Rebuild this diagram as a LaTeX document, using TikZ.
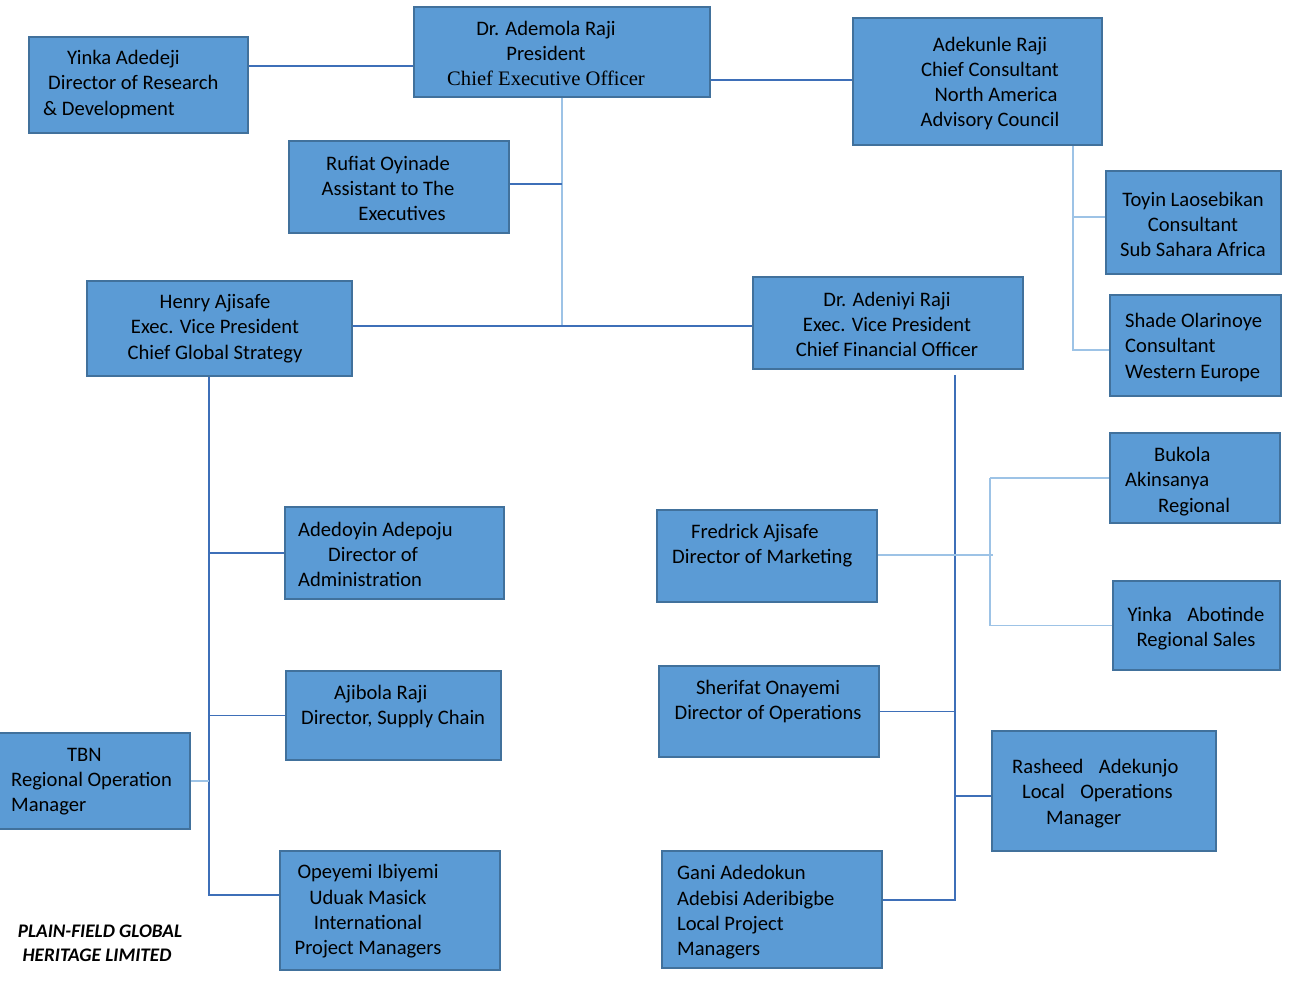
\documentclass[tikz,border=0pt]{standalone}
\usepackage{fontspec}
\setmainfont{Carlito}
\newfontfamily\tnr{Liberation Serif}
\definecolor{boxfill}{HTML}{5B9BD5}
\definecolor{boxline}{HTML}{41719C}
\definecolor{dkline}{HTML}{3E6FB8}
\definecolor{ltline}{HTML}{9DC3E6}
\tikzset{
  box/.style={draw=boxline, fill=boxfill, line width=1.8pt, rectangle, inner sep=0pt},
  txt/.style={inner sep=0pt, text=black, font=\fontsize{20.6}{25.3}\selectfont, yshift=-1.5pt},
  dk/.style={draw=dkline, line width=1.6pt},
  lt/.style={draw=ltline, line width=1.3pt}
}
\begin{document}
\begin{tikzpicture}[x=1pt,y=-1pt]
\useasboundingbox (0,0) rectangle (1300,993);
% boxes
\node[box, minimum width=219, minimum height=96] (yinkaD) at (138.5,85) {};
\node[box, minimum width=296, minimum height=90] (ceo) at (562,52) {};
\node[box, minimum width=249, minimum height=127] (adekunle) at (977.5,81.5) {};
\node[box, minimum width=220, minimum height=92] (rufiat) at (399,187) {};
\node[box, minimum width=265, minimum height=95] (henry) at (219.5,328.5) {};
\node[box, minimum width=270, minimum height=92] (adeniyi) at (888,323) {};
\node[box, minimum width=175, minimum height=103] (toyin) at (1193.5,222.5) {};
\node[box, minimum width=171, minimum height=101] (shade) at (1195.5,345.5) {};
\node[box, minimum width=170, minimum height=90] (bukola) at (1195,478) {};
\node[box, minimum width=220, minimum height=92] (fredrick) at (767,556) {};
\node[box, minimum width=167, minimum height=89] (abotinde) at (1196.5,625.5) {};
\node[box, minimum width=219, minimum height=92] (adedoyin) at (394.5,553) {};
\node[box, minimum width=215, minimum height=89] (ajibola) at (393.5,715.5) {};
\node[box, minimum width=192, minimum height=96] (tbn) at (94,781) {};
\node[box, minimum width=220, minimum height=119] (opeyemi) at (390,910.5) {};
\node[box, minimum width=220, minimum height=91] (sherifat) at (769,711.5) {};
\node[box, minimum width=224, minimum height=120] (rasheed) at (1104,791) {};
\node[box, minimum width=220, minimum height=117] (gani) at (772,909.5) {};
% texts
\node[txt, align=left, anchor=west] (yinkaDT) at (43,83) {\hspace{24pt}Yinka Adedeji\\\hspace{5pt}Director of Research\\\& Development};
\node[txt, align=center] (ceoT) at (546,52) {Dr. Ademola Raji\\President\\{\tnr Chief Executive Officer}};
\node[txt, align=center] (adekunleT) at (990,82) {Adekunle Raji\\Chief Consultant\\\hspace{12pt}North America\\Advisory Council};
\node[txt, align=center] (rufiatT) at (388,187) {Rufiat Oyinade\\Assistant to The\\\hspace{28pt}Executives};
\node[txt, align=center] (henryT) at (215,327) {Henry Ajisafe\\Exec. Vice President\\Chief Global Strategy};
\node[txt, align=center] (adeniyiT) at (887,323) {Dr. Adeniyi Raji\\Exec. Vice President\\Chief Financial Officer};
\node[txt, align=center] (toyinT) at (1193,223) {Toyin Laosebikan\\Consultant\\Sub Sahara Africa};
\node[txt, align=left, anchor=west] (shadeT) at (1125,346) {Shade Olarinoye\\Consultant\\Western Europe};
\node[txt, align=left, anchor=west] (bukolaT) at (1125,480) {\hspace{29pt}Bukola\\Akinsanya\\\hspace{33pt}Regional};
\node[txt, align=left, anchor=west] (fredrickT) at (672,544) {\hspace{19pt}Fredrick Ajisafe\\Director of Marketing};
\node[txt, align=center] (abotindeT) at (1196,627) {Yinka\hspace{0.75em}Abotinde\\Regional Sales};
\node[txt, align=left, anchor=west] (adedoyinT) at (298,553) {Adedoyin Adepoju\\\hspace{30pt}Director of\\Administration};
\node[txt, align=left, anchor=west] (ajibolaT) at (301,705) {\hspace{33pt}Ajibola Raji\\Director, Supply Chain};
\node[txt, align=left, anchor=west] (tbnT) at (11,780) {\hspace{56pt}TBN\\Regional Operation\\Manager};
\node[txt, align=center] (opeyemiT) at (368,910) {Opeyemi Ibiyemi\\Uduak Masick\\International\\Project Managers};
\node[txt, align=center] (sherifatT) at (768,700) {Sherifat Onayemi\\Director of Operations};
\node[txt, align=left, anchor=west] (rasheedT) at (1012,792) {Rasheed\hspace{0.75em}Adekunjo\\\hspace{10pt}Local\hspace{0.75em}Operations\\\hspace{34pt}Manager};
\node[txt, align=left, anchor=west] (ganiT) at (677,911) {Gani Adedokun\\Adebisi Aderibigbe\\Local Project\\Managers};
\node[inner sep=0pt, align=center, font=\fontsize{19.2}{24}\selectfont\bfseries\itshape] (company) at (100,943) {PLAIN-FIELD GLOBAL\\\hspace{-6pt}HERITAGE LIMITED};
% junction coordinates
\coordinate (hub) at (562,326);
\coordinate (akv) at (1073,350);
\coordinate (hv) at (209,895);
\coordinate (av) at (955,900);
\coordinate (fv) at (990,555);
% connectors
\draw[dk] (yinkaD.east |- 0,66) -- (ceo.west |- 0,66);
\draw[dk] (ceo.east |- 0,80) -- (adekunle.west |- 0,80);
\draw[lt] (ceo.south) -- (hub);
\draw[dk] (rufiat.east |- 0,184) -- (hub |- 0,184);
\draw[dk] (henry.east |- hub) -- (adeniyi.west |- hub);
\draw[lt] (adekunle.south -| akv) -- (akv) -- (shade.west |- akv);
\draw[lt] (akv |- 0,217) -- (toyin.west |- 0,217);
\draw[dk] (henry.south -| hv) -- (hv) -- (opeyemi.west |- hv);
\draw[dk] (adedoyin.west -| hv) -- (adedoyin.west);
\draw[dk] (ajibola.west -| hv) -- (ajibola.west);
\draw[lt] (tbn.east) -- (tbn.east -| hv);
\draw[dk] ([yshift=-5pt]adeniyi.south -| av) -- (av) -- (gani.east |- av);
\draw[dk] (sherifat.east) -- (sherifat.east -| av);
\draw[dk] (rasheed.west |- 0,796) -- (av |- 0,796);
\draw[lt] (fredrick.east |- fv) -- ([xshift=3pt]fv);
\draw[lt] (bukola.west -| fv) -- (abotinde.west -| fv);
\draw[lt] (bukola.west -| fv) -- (bukola.west);
\draw[lt] (abotinde.west -| fv) -- (abotinde.west);
\end{tikzpicture}
\end{document}
